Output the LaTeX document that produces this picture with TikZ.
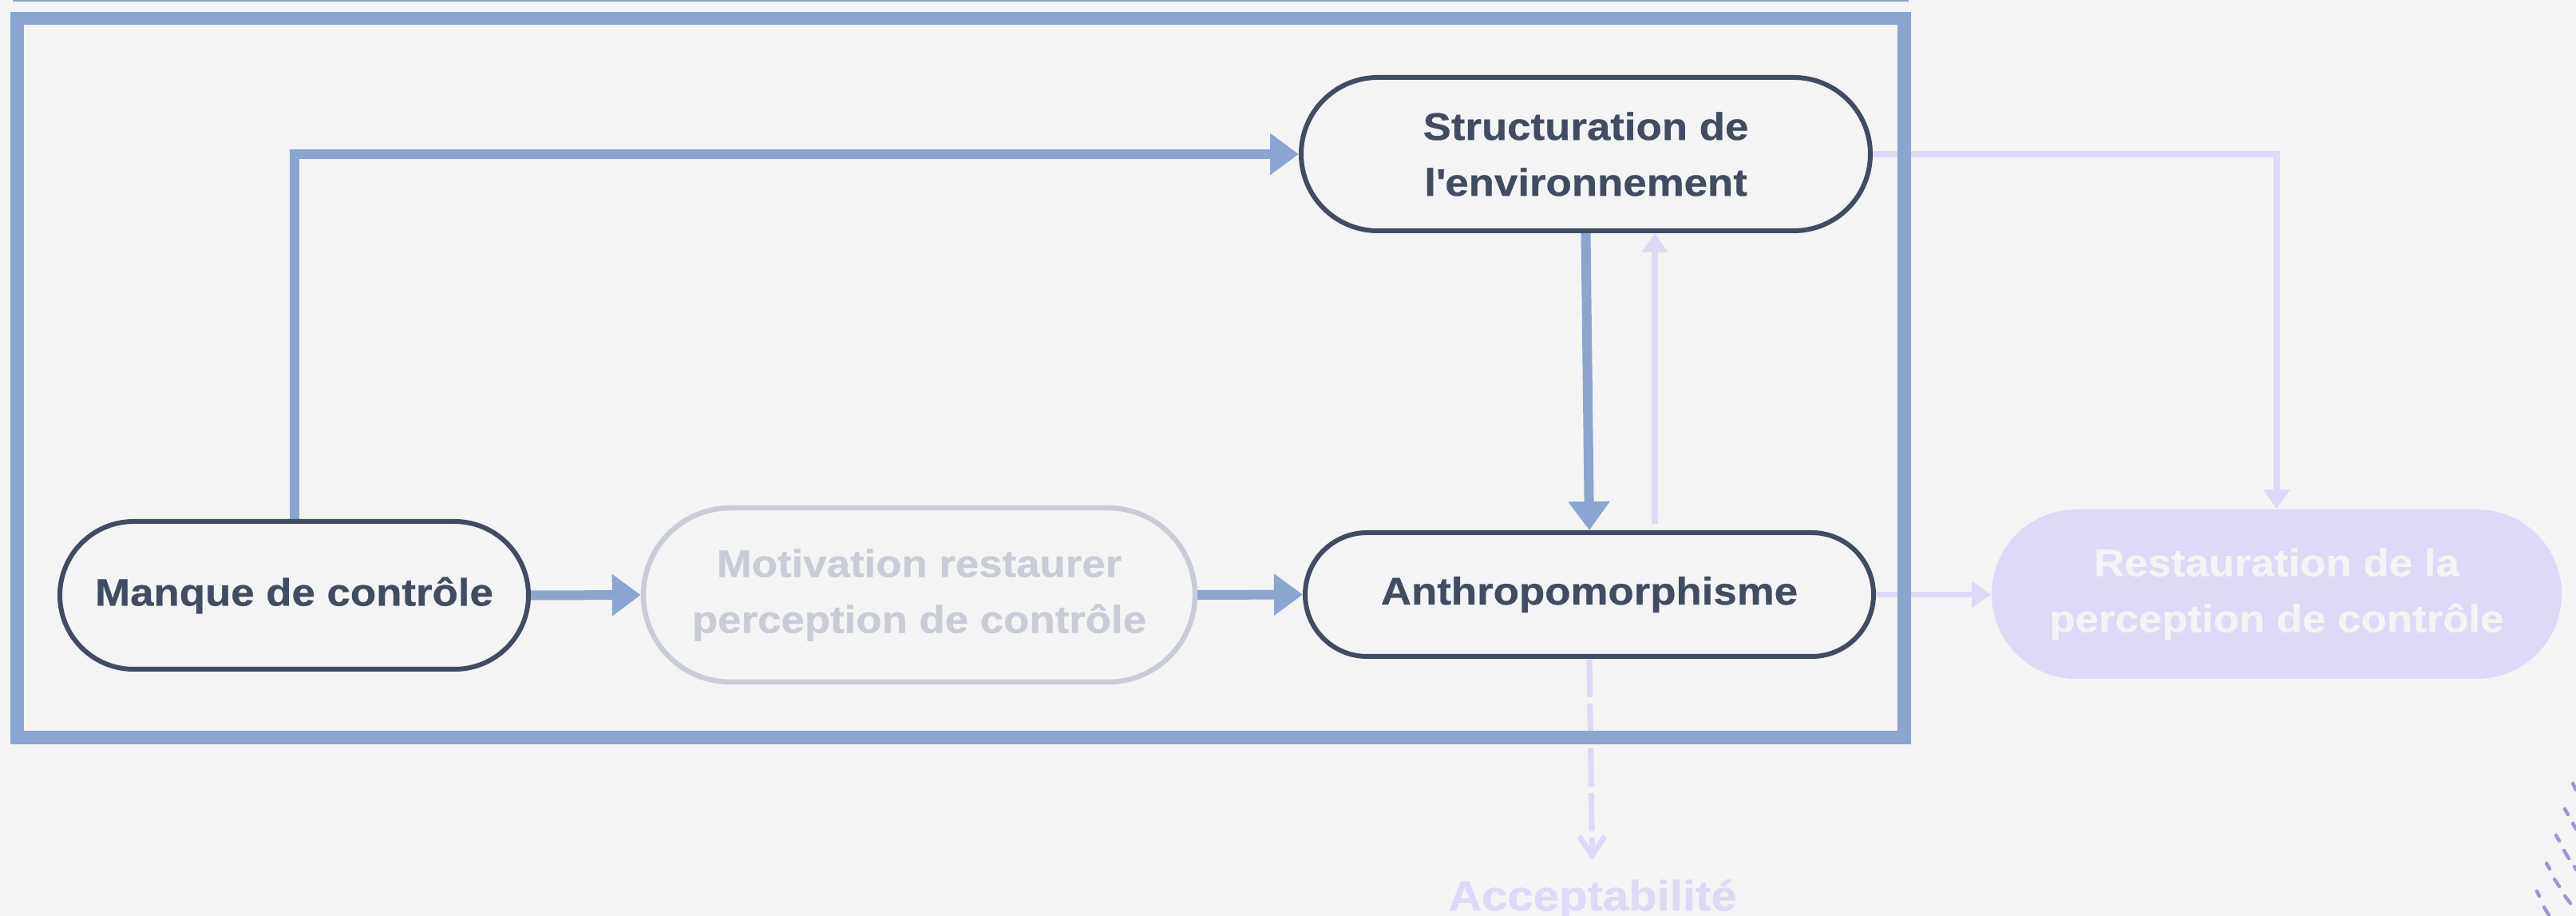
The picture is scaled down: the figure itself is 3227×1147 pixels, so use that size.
\documentclass[tikz,border=0pt]{standalone}
\usepackage{fontspec}
\setmainfont{Liberation Sans}[FakeStretch=1.1, BoldFeatures={FakeBold=0.6}]
\usepackage{tikz}
\usetikzlibrary{arrows.meta,shapes.misc}
\pgfdeclarelayer{back}
\pgfdeclarelayer{bg}
\pgfsetlayers{back,bg,main}
\definecolor{paper}{HTML}{F4F4F4}
\definecolor{ink}{HTML}{414C61}
\definecolor{mist}{HTML}{C8CCD7}
\definecolor{steel}{HTML}{8AA5CF}
\definecolor{lilac}{HTML}{DDD9F6}
\definecolor{dots}{HTML}{9C96D2}
\tikzset{
    every node/.style={rounded rectangle, align=center, inner sep=0mm, font=\bfseries\fontsize{12}{17.5}\selectfont}
}
\tikzset{dark/.style={draw=ink, line width=1.5pt, text=ink, fill=paper},
    faded/.style={draw=mist, line width=1.6pt, text=mist},
    soft/.style={fill=lilac, text=paper},
    link/.style={draw=steel, line width=3pt, -{Triangle[length=9pt,width=12.5pt]}},
    hint/.style={draw=lilac, line width=1.9pt, -{Triangle[length=6pt,width=8pt]}}}

\begin{document}
\begin{tikzpicture}[x=0.25pt, y=0.25pt]
        \useasboundingbox (0,0) rectangle (3227,1147);
        \begin{pgfonlayer}{back}
                \fill[paper] (0,0) rectangle (3227,1147);
        \end{pgfonlayer}
        \node (manque) [dark, minimum width=146.75pt, minimum height=46.25pt] at (368.5, 401.5) {Manque de contrôle};
        \node (motiv) [faded, minimum width=172.75pt, minimum height=54.5pt] at (1151.5, 402) {Motivation restaurer\\perception de contrôle};
        \node (anthro) [dark, minimum width=178pt, minimum height=38.75pt] at (1991, 402.5) {Anthropomorphisme};
        \node (struct) [dark, minimum width=178.25pt, minimum height=48pt] at (1986.5, 954) {Structuration de\\l\textquotesingle environnement};
        \node (resto) [soft, minimum width=178.5pt, minimum height=53pt] at (2852, 403) {Restauration de la\\perception de contrôle};
        \node (accept) [anchor=base, text=lilac, font=\bfseries\fontsize{13.2}{16}\selectfont] at (1995, 7) {Acceptabilité};
        \begin{pgfonlayer}{bg}
                \draw[link] (manque.north) |- (struct.west);
                \draw[link] (manque.east) -- (motiv.west);
                \draw[link] (motiv.east) -- (anthro.west);
                \draw[link] (struct.south) -- (anthro.north);
                \draw[hint, shorten <=2pt] ([xshift=20.5pt]anthro.north) -- ([xshift=20.5pt]anthro.north |- struct.south);
                \draw[hint] (struct.east) -| (resto.north);
                \draw[hint] (anthro.east) -- (anthro.east -| resto.west);
                \draw[draw=lilac, line width=1.75pt, dash pattern=on 12pt off 2pt, shorten >=5.75pt, -{Straight Barb[length=6pt,width=8pt]}] (anthro.south) -- (accept.north);
        \end{pgfonlayer}
        \draw[steel, line width=0.75pt] (16,1146) -- (2391,1146);
        \draw[steel, line width=4.1pt] (21.5,1124) rectangle (2385.5,223.5);
        \foreach \xa/\ya/\xb/\yb in {3223/166/3227/158, 3213/134/3217/127, 3223/116/3227/109, 3202/101/3206/94, 3212/82/3218/72, 3225/62/3227/58, 3190/66/3194/59, 3200/46/3206/37, 3178/31/3181/25, 3213/25/3220/16, 3187/11/3193/1}
                \draw[dots, line width=1.1pt, line cap=round] (\xa,\ya) -- (\xb,\yb);
\end{tikzpicture}
\end{document}
